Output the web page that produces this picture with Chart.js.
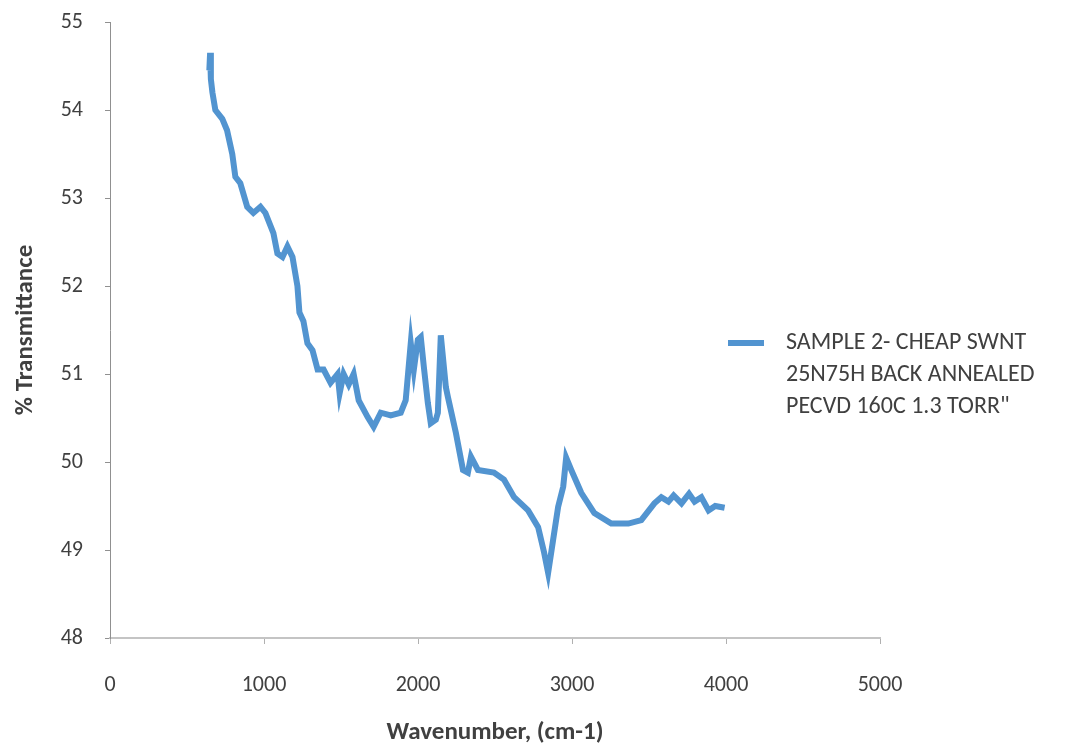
<!DOCTYPE html>
<html>
<head>
<meta charset="utf-8">
<script src="https://cdn.jsdelivr.net/npm/chart.js@4/dist/chart.umd.min.js"></script>
<style>
  html, body { margin: 0; padding: 0; background: #fff; }
  #wrap { width: 1066px; height: 749px; }
</style>
</head>
<body>
<div id="wrap"><canvas id="grafico-ftir"></canvas></div>
<script>
const wavenumbers = [645, 650, 655, 665, 684, 729, 760, 794, 814, 846, 891, 931, 977, 1009, 1061, 1087, 1120, 1152, 1185, 1217,
  1230, 1256, 1282, 1315, 1348, 1387, 1432, 1478, 1491, 1517, 1550, 1582, 1615, 1673, 1712, 1758, 1823, 1888, 1920, 1953,
  1973, 1999, 2018, 2038, 2064, 2083, 2116, 2129, 2148, 2181, 2194, 2246, 2292, 2324, 2344, 2389, 2493, 2558, 2624, 2715,
  2780, 2819, 2845, 2877, 2910, 2943, 2962, 2995, 3060, 3145, 3255, 3366, 3450, 3535, 3580, 3626, 3660, 3711, 3760, 3796,
  3840, 3887, 3930, 3991];
const transmittance = [54.45, 54.65, 54.35, 54.2, 54.0, 53.9, 53.77, 53.5, 53.24, 53.17, 52.9, 52.83, 52.9, 52.83, 52.6, 52.37, 52.33, 52.45, 52.33, 52.0,
  51.7, 51.6, 51.35, 51.27, 51.05, 51.05, 50.9, 51.0, 50.78, 51.0, 50.88, 51.0, 50.7, 50.51, 50.4, 50.56, 50.53, 50.56, 50.7, 51.35,
  51.05, 51.39, 51.42, 51.08, 50.67, 50.44, 50.48, 50.56, 51.44, 50.85, 50.74, 50.33, 49.91, 49.88, 50.06, 49.91, 49.88, 49.8, 49.6, 49.45,
  49.26, 48.97, 48.74, 49.11, 49.49, 49.72, 50.05, 49.91, 49.65, 49.42, 49.3, 49.3, 49.34, 49.53, 49.6, 49.55, 49.62, 49.53, 49.64, 49.55,
  49.6, 49.45, 49.5, 49.48];
const legendLines = ["SAMPLE 2- CHEAP SWNT", "25N75H BACK ANNEALED", "PECVD 160C 1.3 TORR\""];

const lineColor = "rgb(82, 148, 208)";
const textColor = "#404040";
const fontFamily = "Carlito, Lato, sans-serif";

// legenda desenhada à mão (3 linhas, à direita do gráfico)
const legendaDireita = {
  id: "legendaDireita",
  afterDraw(chart) {
    const ctx = chart.ctx;
    const area = chart.chartArea;
    const x0 = area.right - 152;
    const y0 = area.top + 321;
    ctx.save();
    ctx.strokeStyle = lineColor;
    ctx.lineWidth = 6;
    ctx.beginPath();
    ctx.moveTo(x0, y0);
    ctx.lineTo(x0 + 36, y0);
    ctx.stroke();
    ctx.fillStyle = textColor;
    ctx.font = "24px " + fontFamily;
    ctx.textBaseline = "middle";
    legendLines.forEach((t, i) => ctx.fillText(t, x0 + 58, y0 + i * 32));
    ctx.restore();
  },
};

const ctxFtir = document.getElementById("grafico-ftir").getContext("2d");
const chartFtir = {
  datasets: [{
    label: legendLines.join(" "),
    data: wavenumbers.map((w, i) => ({ x: w, y: transmittance[i] })),
    borderColor: lineColor,
    borderWidth: 6,
    pointRadius: 0,
    tension: 0,
    fill: false,
  }],
};
const ftirConfig = {
  type: "line",
  data: chartFtir,
  plugins: [legendaDireita],
  options: {
    responsive: false,
    animation: false,
    layout: { padding: { top: 22, right: 186, left: 0, bottom: 0 } },
    scales: {
      x: {
        type: "linear",
        min: 0,
        max: 5000,
        ticks: { stepSize: 1000, color: textColor, font: { family: fontFamily, size: 22 }, padding: 28, callback: (v) => String(v) },
        grid: { display: true, drawOnChartArea: false, drawTicks: true, tickLength: 6, color: "#b0b0b0" },
        border: { color: "#c4c4c4", width: 2 },
        title: { display: true, text: "Wavenumber, (cm-1)", color: textColor, font: { family: fontFamily, size: 25, weight: "bold" }, padding: { top: 4, bottom: 1 } },
        afterFit(scale) { scale.height = 111; scale.paddingLeft = 0; scale.paddingRight = 0; },
      },
      y: {
        min: 48,
        max: 55,
        ticks: { stepSize: 1, color: textColor, font: { family: fontFamily, size: 22 }, padding: 22, callback: (v) => String(v) },
        grid: { display: true, drawOnChartArea: false, drawTicks: true, tickLength: 5, color: "#909090" },
        border: { color: "#909090", width: 1 },
        title: { display: true, text: "% Transmittance", color: textColor, font: { family: fontFamily, size: 25, weight: "bold" }, padding: { top: 11, bottom: 4 } },
        afterFit(scale) { scale.width = 110; scale.paddingTop = 0; scale.paddingBottom = 0; },
      },
    },
    plugins: {
      legend: { display: false },
      tooltip: { enabled: false },
    },
  },
};
const canvas = document.getElementById("grafico-ftir");
canvas.width = 1066;
canvas.height = 749;
const graficoFtir = new Chart(ctxFtir, ftirConfig);
</script>
</body>
</html>
